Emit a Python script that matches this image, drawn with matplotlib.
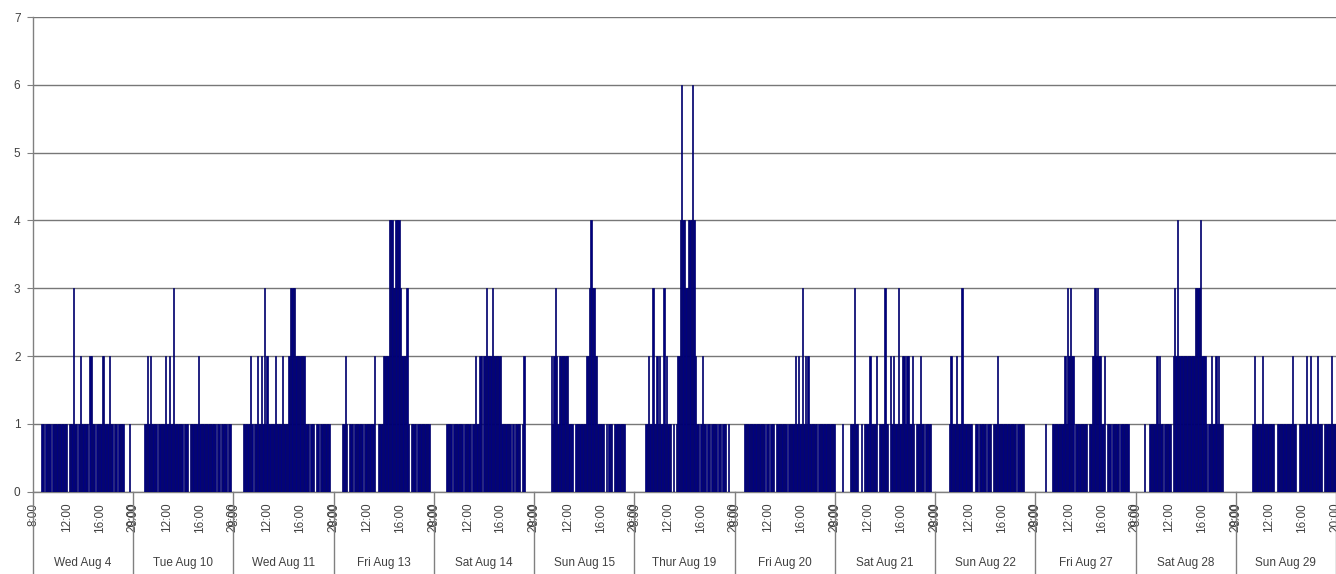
# Activity counts per 10-minute slot (8:00 - 20:00) over 13 days

import numpy as np
import matplotlib.pyplot as plt

plt.rcParams['font.family'] = ['Liberation Sans', 'DejaVu Sans']

days = ["Wed Aug 4", "Tue Aug 10", "Wed Aug 11", "Fri Aug 13", "Sat Aug 14",
        "Sun Aug 15", "Thur Aug 19", "Fri Aug 20", "Sat Aug 21", "Sun Aug 22",
        "Fri Aug 27", "Sat Aug 28", "Sun Aug 29"]

# one digit per 10 minute slot, 8:00 .. 20:00 (73 slots per day)
counts = [
    "0000001101 1110111111 1111101113 1101211111 0221101111 2211121101 1011110000 100",
    "0000000011 2121111011 1112112113 1111110111 0111111211 1111111111 0110111101 100",
    "0000000111 1121011211 2131211111 2111121111 2333322222 2211101110 1101111111 000",
    "0000001121 0111011111 1011111112 0011112222 4443344432 2223101111 0111111111 000",
    "0000000001 1110111111 1011111011 2112202232 2232222221 1111110101 1110120000 000",
    "0000000000 0021232122 2222211100 1111111122 3433221111 1010111011 1111110000 000",
    "0000000011 2113112121 1312111010 1224644334 4464211012 1101101111 0110111010 000",
    "0000000111 1111111111 1101101110 1111111101 1111212113 1212111111 0111111111 111",
    "0000010000 0111311001 0111121111 2011113110 2121113112 2122112101 1121101111 000",
    "0000000000 1211121113 1111111001 1011111011 1011121111 1111111110 1111100000 000",
    "0000000100 0011111111 1213232201 1111111101 1223232211 2011101111 1011111100 000",
    "0000001000 1111121211 0111110232 4222222222 2223333422 2101121121 2111000000 000",
    "0000000000 0012111112 1111111100 1111111111 1211001111 1211211112 1110111112 111",
]

time_labels = ["8:00", "12:00", "16:00", "20:00"]
time_slots = [0, 24, 48, 72]
slots_per_day = 73

values = np.array([int(c) for day in counts for c in day.replace(" ", "")])
x = np.arange(len(values))
n = len(values)

fig = plt.figure(figsize=(13.36, 5.74), dpi=100)
ax = fig.add_axes([33 / 1336, 82.3 / 574, 1 - 33 / 1336, 474.7 / 574])

ax.bar(x, values, width=1.0, align='edge', color='#000080',
       edgecolor='#00006a', linewidth=0.5, zorder=3)

ax.set_xlim(0, n)
ax.set_ylim(0, 7)
ax.set_yticks(range(8))
ax.yaxis.grid(True, color='#777777', linewidth=1.0, zorder=0)
ax.set_axisbelow(True)

for s in ['top', 'right']:
    ax.spines[s].set_visible(False)
for s in ['left', 'bottom']:
    ax.spines[s].set_color('#808080')
    ax.spines[s].set_linewidth(1.0)

ax.tick_params(axis='y', length=4, color='#808080', labelsize=8.5,
               labelcolor='#404040', pad=5)

# time tick labels for each day
xt, xl = [], []
for d in range(len(days)):
    for s, lab in zip(time_slots, time_labels):
        xt.append(d * slots_per_day + s + 0.5)
        xl.append(lab)
ax.set_xticks(xt)
ax.set_xticklabels(xl, rotation=90, fontsize=8.5, color='#404040')
ax.tick_params(axis='x', length=0, pad=8)

# day separators and day labels
trans = ax.get_xaxis_transform()
for d in range(len(days) + 1):
    ax.plot([d * slots_per_day] * 2, [0, -0.175], transform=trans,
            color='#808080', linewidth=1.0, clip_on=False)
for d, name in enumerate(days):
    ax.text(d * slots_per_day + slots_per_day / 2, -0.150, name,
            transform=trans, ha='center', va='center', fontsize=8.5,
            color='#404040')

plt.savefig('out.png', dpi=100)
